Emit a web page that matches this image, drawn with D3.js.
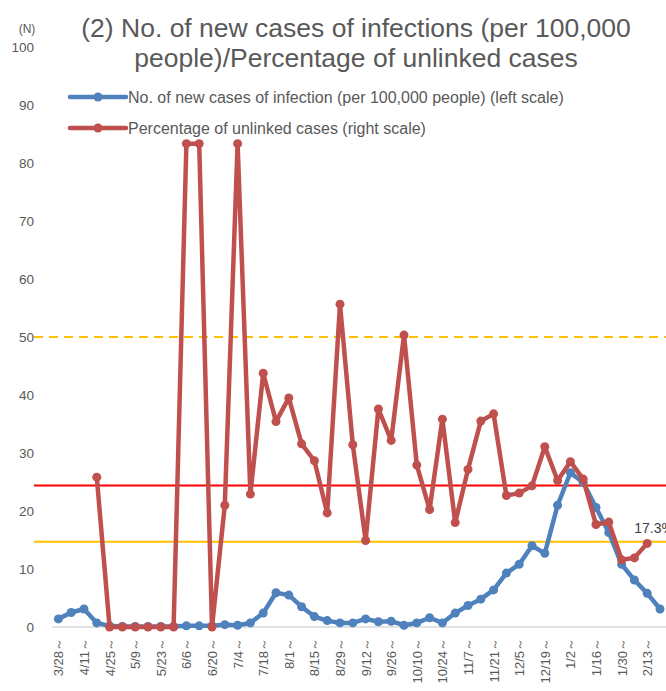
<!DOCTYPE html>
<html><head><meta charset="utf-8">
<script src="https://cdn.jsdelivr.net/npm/d3@7/dist/d3.min.js"></script>
<style>
html,body{margin:0;padding:0;background:#fff;}
svg{display:block;font-family:"Liberation Sans",Arial,sans-serif;}
</style></head>
<body>
<svg id="c" width="666" height="691"></svg>
<script>
const weeks = ["3/28","4/4","4/11","4/18","4/25","5/2","5/9","5/16","5/23","5/30","6/6","6/13","6/20","6/27","7/4","7/11","7/18","7/25","8/1","8/8","8/15","8/22","8/29","9/5","9/12","9/19","9/26","10/3","10/10","10/17","10/24","10/31","11/7","11/14","11/21","11/28","12/5","12/12","12/19","12/26","1/2","1/9","1/16","1/23","1/30","2/6","2/13","2/20"];
const newCases = [1.4,2.5,3.1,0.7,0.2,0.1,0.1,0.1,0.1,0.1,0.2,0.2,0.2,0.4,0.3,0.7,2.4,5.9,5.5,3.5,1.8,1.1,0.7,0.7,1.4,0.9,1.0,0.3,0.7,1.6,0.7,2.4,3.7,4.8,6.4,9.3,10.8,14.0,12.7,21.0,26.6,24.9,20.6,16.3,10.8,8.1,5.8,3.1];
const unlinkedPct = [null,null,null,31.0,0,0,0,0,0,0,100,100,0,25.2,100,27.5,52.5,42.5,47.4,37.9,34.4,23.6,66.8,37.7,17.9,45.1,38.6,60.4,33.5,24.3,43.0,21.6,32.6,42.6,44.1,27.2,27.7,29.2,37.3,30.3,34.2,30.6,21.2,21.7,13.9,14.3,17.3,null];
const leftTicks = [0,10,20,30,40,50,60,70,80,90,100];
const refLines = [
  {value:50, color:"#FFC000", dash:"9,6"},
  {value:24.4, color:"#FF0000", dash:null},
  {value:14.7, color:"#FFC000", dash:null}
];
const titleLines = ["(2) No. of new cases of infections (per 100,000","people)/Percentage of unlinked cases"];
const legendItems = [
  {label:"No. of new cases of infection (per 100,000 people) (left scale)", color:"#4F81BD"},
  {label:"Percentage of unlinked cases (right scale)", color:"#C0504D"}
];
const lastLabel = "17.3%";

const svg = d3.select("#c");
const idx = d3.range(weeks.length);
const x = d3.scalePoint().domain(idx).range([52, 666.4]).padding(0.5);
const yL = d3.scaleLinear().domain([0,100]).range([627,47]);
const yR = d3.scaleLinear().domain([0,120]).range([627,47]);

// title
svg.append("g").selectAll("text").data(titleLines).join("text")
  .attr("x",356).attr("y",(d,i)=>37+i*30).attr("text-anchor","middle")
  .attr("font-size",26.5).attr("fill","#595959").text(d=>d);

svg.append("text").attr("x",27).attr("y",33).attr("text-anchor","middle")
  .attr("font-size",12).attr("fill","#595959").text("(N)");

// y axis
const ya = svg.append("g").attr("transform","translate(34,0)")
  .call(d3.axisLeft(yL).tickValues(leftTicks).tickSize(0).tickPadding(0));
ya.select(".domain").remove();
ya.selectAll("text").attr("font-size",13.5).attr("fill","#595959")
  .attr("font-family","Liberation Sans, Arial, sans-serif");

// baseline
svg.append("line").attr("x1",52).attr("x2",666).attr("y1",yL(0)).attr("y2",yL(0))
  .attr("stroke","#d9d9d9").attr("stroke-width",1.5);

// x axis
const xa = svg.append("g").attr("transform",`translate(0,${yL(0)})`)
  .call(d3.axisBottom(x).tickValues(idx.filter(i=>i%2===0)).tickSize(0).tickFormat(i=>weeks[i]+"～"));
xa.select(".domain").remove();
xa.selectAll("text").attr("font-size",13).attr("fill","#595959")
  .attr("font-family","Liberation Sans, Arial, sans-serif")
  .attr("transform","rotate(-90)").attr("text-anchor","end")
  .attr("x",-11).attr("y",0).attr("dy","0.35em");

// reference lines
svg.append("g").selectAll("line").data(refLines).join("line")
  .attr("x1",34).attr("x2",666).attr("y1",d=>yL(d.value)).attr("y2",d=>yL(d.value))
  .attr("stroke",d=>d.color).attr("stroke-width",2)
  .attr("stroke-dasharray",d=>d.dash);

// series
function drawSeries(vals, yScale, color){
  const pts = idx.map(i=>({i, v:vals[i]}));
  const line = d3.line().defined(d=>d.v!==null).x(d=>x(d.i)).y(d=>yScale(d.v));
  svg.append("path").datum(pts).attr("d",line).attr("fill","none")
    .attr("stroke",color).attr("stroke-width",4.5).attr("stroke-linejoin","round");
  svg.append("g").selectAll("circle").data(pts.filter(d=>d.v!==null)).join("circle")
    .attr("cx",d=>x(d.i)).attr("cy",d=>yScale(d.v)).attr("r",4.5).attr("fill",color);
}
drawSeries(newCases, yL, "#4F81BD");
drawSeries(unlinkedPct, yR, "#C0504D");

// last label
const lastI = 46;
svg.append("text").attr("x",x(lastI)-13).attr("y",yR(unlinkedPct[lastI])-10)
  .attr("font-size",14).attr("fill","#404040").text(lastLabel);

// legend
const lg = svg.append("g").selectAll("g").data(legendItems).join("g")
  .attr("transform",(d,i)=>`translate(0,${97+i*31})`);
lg.append("line").attr("x1",70).attr("x2",126).attr("stroke",d=>d.color).attr("stroke-width",4.5).attr("stroke-linecap","round");
lg.append("circle").attr("cx",98).attr("r",4.5).attr("fill",d=>d.color);
lg.append("text").attr("x",128).attr("y",5.5).attr("font-size",16).attr("fill","#595959").text(d=>d.label);
</script>
</body></html>
